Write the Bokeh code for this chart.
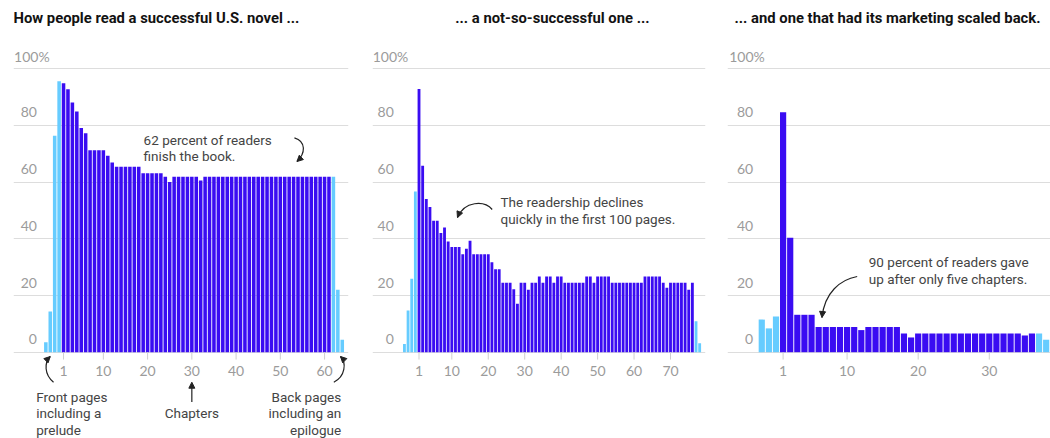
from bokeh.plotting import figure
from bokeh.layouts import row
from bokeh.models import Grid, FixedTicker, Arrow, NormalHead
from bokeh.core.properties import value
from bokeh.embed import file_html
from bokeh.resources import INLINE

# ---------------- data (percent of readers still reading) ----------------
titles = ["How people read a successful U.S. novel ...",
          "... a not-so-successful one ...",
          "... and one that had its marketing scaled back."]

y_ticks = [0, 20, 40, 60, 80, 100]
y_tick_labels = ["0", "20", "40", "60", "80", "100%"]

# Panel 1: successful novel
p1_front = [3.5, 14.4, 76.4, 95.6]
p1_chapters = [94.9, 92.8, 88.1, 84.9, 79.1, 77.3, 71.3, 71.3, 71.3, 71.3,
               69.3, 66.9, 65.4, 65.4, 65.4, 65.4, 65.4, 65.4, 63.1, 63.1,
               63.1, 63.1, 63.1, 61.9, 60.1, 61.9, 61.9, 61.9, 61.9, 61.9,
               61.9, 60.6, 61.9, 61.9, 61.9, 61.9, 61.9, 61.9, 61.9, 61.9,
               61.9, 61.9, 61.9, 61.9, 61.9, 61.9, 61.9, 61.9, 61.9, 61.9,
               61.9, 61.9, 61.9, 61.9, 61.9, 61.9, 61.9, 61.9, 61.9, 61.9,
               61.9]
p1_back = [61.9, 22.0, 4.4]
p1_xticks = [1, 10, 20, 30, 40, 50, 60]

# Panel 2: not-so-successful novel
p2_front = [2.9, 14.7, 25.9, 56.7]
p2_chapters = [92.9, 65.8, 54.1, 51.2, 46.4, 46.4, 42.1, 44.0, 39.1, 37.1,
               37.1, 37.1, 34.6, 36.5, 39.3, 34.6, 34.6, 34.6, 34.6, 34.6,
               31.7, 29.3, 29.3, 24.5, 24.5, 24.5, 22.2, 17.1, 24.5, 24.5,
               22.0, 24.5, 24.5, 26.7, 24.5, 26.7, 26.7, 24.5, 26.7, 26.7,
               24.5, 24.5, 24.5, 24.5, 24.5, 24.5, 26.7, 26.7, 24.5, 26.7,
               26.7, 26.7, 26.7, 24.5, 24.5, 24.5, 24.5, 24.5, 24.5, 24.5,
               24.5, 24.5, 26.7, 26.7, 26.7, 26.7, 26.7, 24.5, 22.7, 24.5,
               24.5, 24.5, 24.5, 24.5, 22.0, 24.5]
p2_back = [10.9, 3.2]
p2_xticks = [1, 10, 20, 30, 40, 50, 60, 70]

# Panel 3: marketing scaled back
p3_front = [11.5, 8.4, 12.6]
p3_chapters = [84.7, 40.4, 13.2, 13.2, 13.2, 8.9, 8.9, 8.9, 8.9, 8.9,
               8.9, 7.8, 8.9, 8.9, 8.9, 8.9, 8.9, 6.6, 5.2, 6.6,
               6.6, 6.6, 6.6, 6.6, 6.6, 6.6, 6.6, 6.6, 6.6, 6.6,
               6.6, 6.6, 6.6, 6.6, 5.9, 6.6]
p3_back = [6.6, 4.4]
p3_xticks = [1, 10, 20, 30]

# ---------------- style ----------------
DARK = "#3a0cf2"
LIGHT = "#66ccff"
GRID = "#dddddd"
TICK_TEXT = "#9b9b9b"
NOTE = "#444444"
TITLE_FONT = value("Roboto")
NOTE_FONT = value("Roboto")
TICK_FONT = value("Lato")

H = 438
K = 2.834          # pixels per percentage point
BASE = 351.7       # pixel row (from figure top) of the 0 line
Y_RANGE = (-(H - BASE) / K, BASE / K)


def add_arrowhead(p, xs, ys, xe, ye):
    p.add_layout(Arrow(end=NormalHead(size=6, fill_color="#222222", line_color="#222222", line_width=1),
                       x_start=xs, y_start=ys, x_end=xe, y_end=ye,
                       line_alpha=0, line_width=1))


def make_panel(width, bl, br, xr, front, chapters, back, bar_w, xticks,
               ylab_x, y100_x, title, title_x, title_align):
    p = figure(width=width, height=H, x_range=xr, y_range=Y_RANGE,
               toolbar_location=None, output_backend="svg",
               x_axis_location=None, y_axis_location=None, title=None,
               min_border_left=bl, min_border_right=br,
               min_border_top=0, min_border_bottom=0,
               outline_line_color=None, background_fill_color="white",
               border_fill_color="white")
    for g in p.grid:
        g.visible = False
    p.add_layout(Grid(dimension=1, ticker=FixedTicker(ticks=y_ticks),
                      grid_line_color=GRID, grid_line_width=1))

    n_f, n_c, n_b = len(front), len(chapters), len(back)
    fx = list(range(1 - n_f, 1))
    cx = list(range(1, n_c + 1))
    bx = list(range(n_c + 1, n_c + 1 + n_b))
    p.vbar(x=fx + bx, top=front + back, width=bar_w, bottom=0,
           fill_color=LIGHT, line_color=None)
    p.vbar(x=cx, top=chapters, width=bar_w, bottom=0,
           fill_color=DARK, line_color=None)

    # x ticks + labels
    n = len(xticks)
    p.segment(x0=xticks, x1=xticks, y0=[0] * n, y1=[-2.6] * n,
              line_color="#cfcfcf", line_width=1)
    p.text(x=xticks, y=[-6.5] * n, text=[str(t) for t in xticks],
           text_align="center", text_baseline="middle", text_font=TICK_FONT,
           text_font_size="14px", text_color=TICK_TEXT)

    # y labels (sit above their grid lines)
    p.text(x=[ylab_x] * 5, y=y_ticks[:5], text=y_tick_labels[:5],
           text_align="right", text_baseline="middle", y_offset=-13,
           text_font=TICK_FONT, text_font_size="14px", text_color=TICK_TEXT)
    p.text(x=[y100_x], y=[y_ticks[5]], text=[y_tick_labels[5]],
           text_align="left", text_baseline="middle", y_offset=-12,
           text_font=TICK_FONT, text_font_size="14px", text_color=TICK_TEXT)

    # title
    p.text(x=[title_x], y=[117.75], text=[title], text_align=title_align,
           text_baseline="middle", text_font=TITLE_FONT, text_font_style="bold",
           text_font_size="14.8px", text_color="#121212")
    return p


p1 = make_panel(360, 13, 12, (-10.31, 65.41), p1_front, p1_chapters, p1_back, 0.8,
                p1_xticks, -5.02, -10.18, titles[0], -10.31, "left")
p2 = make_panel(356, 12, 11, (-11.76, 79.6), p2_front, p2_chapters, p2_back, 0.78,
                p2_xticks, -5.91, -11.7, titles[1], 37.6, "center")
p3 = make_panel(334, 11, 0, (-6.82, 38.61), p3_front, p3_chapters, p3_back, 0.87,
                p3_xticks, -3.2, -6.59, titles[2], 37.2, "right")

# ---------------- annotations ----------------
note_kw = dict(text_font=NOTE_FONT, text_font_size="13.5px", text_color=NOTE,
               text_baseline="middle")

# panel 1
p1.text(x=[19.1, 19.1], y=[75.05, 69.2],
        text=["62 percent of readers", "finish the book."], text_align="left", **note_kw)
p1.bezier(x0=[53.19], y0=[75.65], cx0=[55.9], cy0=[74.35], cx1=[55.68], cy1=[70.11],
          x1=[53.76], y1=[67.29], line_color="#222222", line_width=1.2)
add_arrowhead(p1, 55.68, 70.11, 53.76, 67.29)

p1.text(x=[-5.18] * 3, y=[-15.98, -21.63, -27.28],
        text=["Front pages", "including a", "prelude"], text_align="left", **note_kw)
p1.bezier(x0=[-1.26], y0=[-10.59], cx0=[-3.37], cy0=[-7.87], cx1=[-3.37], cy1=[-3.63],
          x1=[-2.01], y1=[-1.52], line_color="#222222", line_width=1.2)
add_arrowhead(p1, -3.37, -3.63, -2.01, -1.52)

p1.text(x=[30], y=[-21.3], text=["Chapters"], text_align="center", **note_kw)
p1.segment(x0=[30], y0=[-17.6], x1=[30], y1=[-11.2], line_color="#222222", line_width=1.2)
add_arrowhead(p1, 30, -14.0, 30, -10.59)

p1.text(x=[63.76] * 3, y=[-15.98, -21.63, -27.28],
        text=["Back pages", "including an", "epilogue"], text_align="right", **note_kw)
p1.bezier(x0=[62.09], y0=[-10.59], cx0=[64.74], cy0=[-8.57], cx1=[64.97], cy1=[-3.63],
          x1=[63.6], y1=[-1.52], line_color="#222222", line_width=1.2)
add_arrowhead(p1, 64.97, -3.63, 63.6, -1.52)

# panel 2
p2.text(x=[23.36, 23.36], y=[52.93, 47.07],
        text=["The readership declines", "quickly in the first 100 pages."],
        text_align="left", **note_kw)
p2.bezier(x0=[21.08], y0=[50.35], cx0=[18.97], cy0=[53.53], cx1=[13.48], cy1=[53.53],
          x1=[11.56], y1=[47.52], line_color="#222222", line_width=1.2)
add_arrowhead(p2, 13.48, 53.53, 11.56, 47.52)

# panel 3
p3.text(x=[13.05, 13.05], y=[31.76, 25.9],
        text=["90 percent of readers gave", "up after only five chapters."],
        text_align="left", **note_kw)
p3.bezier(x0=[11.42], y0=[26.71], cx0=[9.07], cy0=[25.65], cx1=[6.82], cy1=[21.07],
          x1=[6.47], y1=[12.24], line_color="#222222", line_width=1.2)
add_arrowhead(p3, 6.82, 21.07, 6.47, 12.24)

layout = row(p1, p2, p3, spacing=0)
open("out.html", "w").write(file_html(layout, INLINE))
